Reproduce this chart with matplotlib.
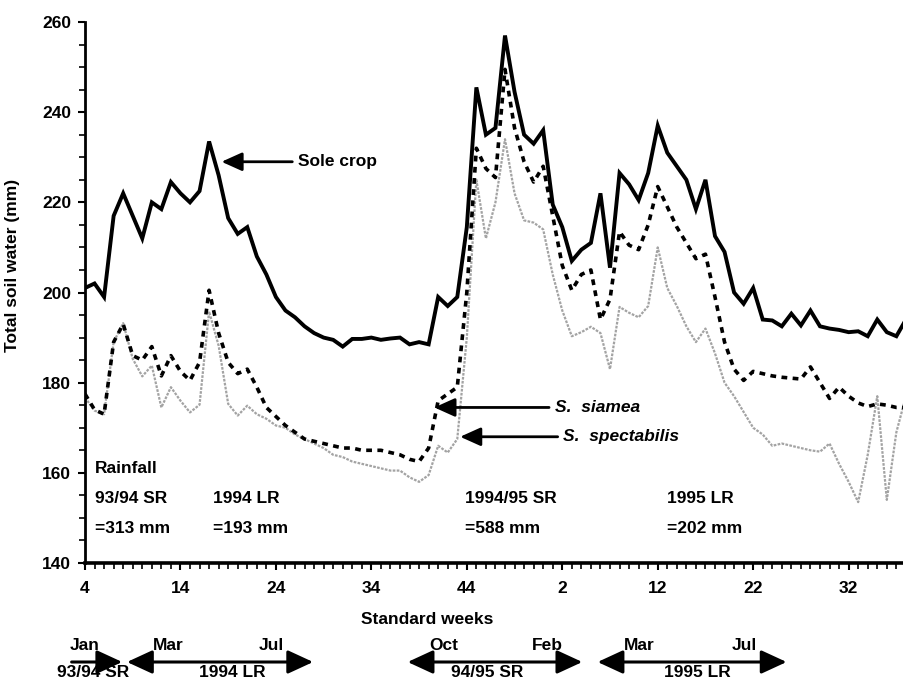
import matplotlib
matplotlib.use("Agg")
import numpy as np
import matplotlib.pyplot as plt
from matplotlib.ticker import MultipleLocator, FixedLocator

# standard weeks, week 4 of 1994 onwards (one value per week)
tick_pos = [0, 10, 20, 30, 40, 50, 60, 70, 80]
tick_labels = ["4", "14", "24", "34", "44", "2", "12", "22", "32"]

sole_crop = [201, 202, 199, 217, 222, 217, 212, 220, 218.5, 224.5,
             222, 220, 222.5, 233.5, 226, 216.5, 213, 214.5, 208, 204,
             199, 196, 194.5, 192.5, 191, 190, 189.5, 188, 189.7, 189.7,
             190, 189.5, 189.8, 190, 188.5, 189, 188.5, 199, 197, 199,
             214.5, 245.5, 235, 236.5, 257, 244.5, 235, 233, 236, 219.5,
             214.5, 207, 209.5, 211, 222, 205.5, 226.5, 224, 220.5, 226.5,
             237, 231, 228, 225, 218.5, 225, 212.5, 209, 200, 197.5,
             201, 194, 193.8, 192.5, 195.3, 192.7, 196, 192.5, 192, 191.7,
             191.2, 191.4, 190.3, 194, 191.2, 190.3, 194]

s_siamea = [177.5, 174, 173, 189, 193, 186, 185, 188, 181.5, 186,
            182.5, 180.5, 184.5, 200.5, 191, 184.5, 182, 183, 179, 174.5,
            172.5, 170.5, 169, 167.5, 167, 166.5, 166, 165.5, 165.5, 165,
            165, 165, 164.5, 164, 163, 162.5, 165.5, 176, 177.5, 179,
            200, 232, 227.5, 225.5, 249.5, 236.5, 229, 224.5, 228, 217,
            206, 200.5, 204, 205, 194, 198.5, 213.5, 210.5, 209.5, 215,
            223.5, 219, 214.5, 211, 207.5, 208.5, 199, 189, 183, 180.5,
            182.5, 182, 181.5, 181.2, 181, 180.8, 183.5, 180, 176.5, 179,
            177, 175.5, 174.7, 175.3, 175, 174.5, 174.5]

s_spectabilis = [176.7, 173.8, 173, 189, 193.2, 185.3, 181.4, 183.8, 174.5, 179,
                 176, 173.4, 175.1, 195.8, 188.2, 175.3, 172.7, 174.9, 173, 172,
                 170.5, 170, 168.5, 167.5, 166.5, 165.5, 164, 163.5, 162.5, 162,
                 161.5, 161, 160.5, 160.5, 159, 158, 159.5, 166, 164.5, 167.5,
                 190, 225, 212, 220, 234, 222, 216, 215.5, 214, 204,
                 196, 190.3, 191.2, 192.4, 191, 183, 196.8, 195.5, 194.5, 197,
                 210, 201, 197, 192.5, 189, 192, 186.5, 180, 177, 173.5,
                 170, 168.5, 166, 166.5, 166, 165.5, 165, 164.7, 166.5, 162,
                 158, 153.5, 164, 177, 154, 169, 177]

# rainfall notes: x position (week index) and lines
rain_x = [1.0, 13.4, 39.8, 61.0]
rain_lines = [["Rainfall", "93/94 SR", "=313 mm"],
              ["1994 LR", "=193 mm"],
              ["1994/95 SR", "=588 mm"],
              ["1995 LR", "=202 mm"]]

# season arrows below the axis
season_names = ["93/94 SR", "1994 LR", "94/95 SR", "1995 LR"]
season_start = [-1.4, 4.4, 33.8, 53.7]
season_end = [3.9, 23.9, 52.1, 73.5]
season_mid = [0.9, 15.4, 42.1, 64.2]
month_names = ["Jan", "Mar", "Jul", "Oct", "Feb", "Mar", "Jul"]
month_pos = [0.0, 8.7, 19.5, 37.6, 48.4, 58.1, 69.1]

plt.rcParams["font.family"] = ["Liberation Sans", "DejaVu Sans"]
plt.rcParams["font.weight"] = "bold"

fig = plt.figure(figsize=(9.04, 6.83), dpi=100)
ax = fig.add_axes([85 / 904, 1 - 563 / 683, 819 / 904, 541 / 683])

x = np.arange(len(sole_crop))
ax.plot(x, s_spectabilis, color="#a3a3a3", linewidth=1.6,
        linestyle=(0, (1.2, 0.6)))
ax.plot(x, s_siamea, color="black", linewidth=2.6,
        linestyle=(0, (1.6, 1.5)))
ax.plot(x, sole_crop, color="black", linewidth=2.8, solid_joinstyle="miter")

ax.set_xlim(0, 85.8)
ax.set_ylim(140, 260)
for side in ["top", "right"]:
    ax.spines[side].set_visible(False)
ax.spines["left"].set_linewidth(2.0)
ax.spines["bottom"].set_linewidth(2.6)

ax.xaxis.set_major_locator(FixedLocator(tick_pos))
ax.set_xticklabels(tick_labels)
ax.xaxis.set_minor_locator(MultipleLocator(1))
ax.yaxis.set_major_locator(MultipleLocator(20))
ax.yaxis.set_minor_locator(MultipleLocator(5))
ax.tick_params(axis="both", which="major", direction="out", length=5,
               width=1.5, labelsize=12.5, pad=5)
ax.tick_params(axis="x", which="major", pad=8)
ax.tick_params(axis="both", which="minor", direction="out", length=4, width=1.2)

ax.set_ylabel("Total soil water (mm)", fontsize=12.5, fontweight="bold")
ax.yaxis.set_label_coords(-0.079, 0.55)

xtr = ax.get_xaxis_transform()
ax.text(35.9, -0.105, "Standard weeks", transform=xtr, ha="center",
        va="center", fontsize=12.5)

# annotation arrows
arrow_kw = dict(arrowstyle="-|>,head_length=1.0,head_width=0.45",
                color="black", lw=2.0, shrinkA=2, shrinkB=0)
ax.annotate("Sole crop", xy=(14.3, 229), xytext=(22.3, 229),
            va="center", ha="left", fontsize=12.5, arrowprops=arrow_kw)
ax.annotate("S.  siamea", xy=(36.6, 174.5), xytext=(49.2, 174.5),
            va="center", ha="left", fontsize=12.5, style="italic",
            arrowprops=arrow_kw)
ax.annotate("S.  spectabilis", xy=(39.3, 168), xytext=(50.1, 168),
            va="center", ha="left", fontsize=12.5, style="italic",
            arrowprops=arrow_kw)

# rainfall text blocks
row_y = [161.0, 154.3, 147.6]
for rx, lines in zip(rain_x, rain_lines):
    rows = row_y[3 - len(lines):]
    for ry, line in zip(rows, lines):
        ax.text(rx, ry, line, ha="left", va="center", fontsize=12.5)

# season arrows
for i, name in enumerate(season_names):
    style = "-|>" if i == 0 else "<|-|>"
    ax.annotate("", xy=(season_end[i], -0.183), xycoords=xtr,
                xytext=(season_start[i], -0.183), textcoords=xtr,
                annotation_clip=False,
                arrowprops=dict(arrowstyle=style + ",head_length=1.3,head_width=0.6",
                                color="black", lw=2.2, shrinkA=0, shrinkB=0,
                                mutation_scale=12))
    ax.text(season_mid[i], -0.203, name, transform=xtr, ha="center",
            va="center", fontsize=12.5)
for name, mx in zip(month_names, month_pos):
    ax.text(mx, -0.152, name, transform=xtr, ha="center", va="center",
            fontsize=12.5)

fig.savefig("out.png", dpi=100)
plt.close(fig)
